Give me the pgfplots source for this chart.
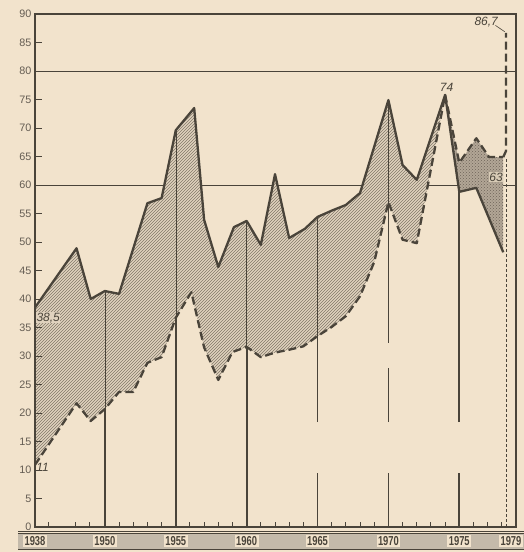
\documentclass[border=0pt]{standalone}
\usepackage{fontspec}
\setmainfont{Liberation Sans}
\newfontfamily\narrowfont[FakeStretch=0.72]{Liberation Sans}
\usepackage{pgfplots}
\pgfplotsset{compat=1.18}
\usepgfplotslibrary{fillbetween}
\usetikzlibrary{patterns}
\pgfdeclarelayer{paperbg}
\pgfplotsset{layers/mylayers/.define layer set={paperbg,axis background,axis grid,axis ticks,axis lines,axis tick labels,pre main,main,axis descriptions,axis foreground}{}}
\definecolor{paper}{RGB}{242,227,204}
\definecolor{ink}{RGB}{74,68,58}
\definecolor{hatchbg}{RGB}{224,210,190}
\definecolor{hatchln}{RGB}{130,120,104}
\definecolor{darkbg}{RGB}{178,166,150}
\definecolor{darkdot}{RGB}{110,100,88}
\definecolor{band}{RGB}{196,186,170}
\definecolor{labgray}{RGB}{100,92,82}
\begin{document}
\begin{tikzpicture}
\begin{axis}[
  set layers=mylayers,
  scale only axis, width=481pt, height=513pt,
  xmin=1945.07, xmax=1979, ymin=0, ymax=90,
  axis line style={ink, line width=1.3pt},
  ytick={0,5,...,90},
  ytick pos=left, xtick pos=bottom,
  tick align=inside,
  major tick length=7pt, minor tick length=5pt,
  tick style={ink, line width=0.9pt},
  yticklabel style={labgray, font=\fontsize{10.8}{12}\selectfont},
  /pgf/number format/assume math mode=true,
  xtick={1945.07,1950,1955,1960,1965,1970,1975,1979},
  xticklabels={1938,1950,1955,1960,1965,1970,1975,{}},
  xticklabel style={anchor=center, yshift=-14pt, text=ink, fill=paper, inner sep=1.5pt,
     font=\narrowfont\bfseries\fontsize{13}{14}\selectfont},
  minor xtick={1946,1947.9,1948.9,1951,1952,1953,1954,1956,1957,1958,1959,1961,1962,1963,1964,1966,1967,1968,1969,1971,1972,1973,1974,1976,1977,1978},
  clip=false,
]
\begin{pgfonlayer}{paperbg}
\fill[paper] (rel axis cs:-0.0728,-0.0488) rectangle (rel axis cs:1.0167,1.0273);
\fill[band] (rel axis cs:-0.0353,-0.0117) rectangle (rel axis cs:1.0167,-0.0429);
\draw[ink,line width=0.8pt] (rel axis cs:-0.0353,-0.0078) -- (rel axis cs:1.0167,-0.0078);
\draw[ink,line width=0.8pt] (rel axis cs:-0.0353,-0.0127) -- (rel axis cs:1.0167,-0.0127);
\draw[ink,line width=0.8pt] (rel axis cs:-0.0353,-0.0439) -- (rel axis cs:1.0167,-0.0439);
% horizontal reference lines at 60 and 80 (beneath the shaded areas)
\draw[ink, line width=1pt] (axis cs:1945.07,60) -- (axis cs:1979,60);
\draw[ink, line width=1pt] (axis cs:1945.07,80) -- (axis cs:1979,80);
\end{pgfonlayer}
% upper series (solid)
\addplot[name path=up, ink, line width=2.3pt, line join=round] coordinates {
 (1945.07,38.5) (1948.0,48.9) (1949.0,40.0) (1950.0,41.4) (1951.0,40.9)
 (1953.0,56.8) (1954.0,57.7) (1955.0,69.6) (1956.3,73.5) (1957.0,53.9)
 (1958.0,45.6) (1959.1,52.6) (1960.0,53.7) (1961.0,49.5) (1962.0,61.9)
 (1963.0,50.7) (1964.1,52.3) (1965.0,54.4) (1966.0,55.5) (1967.0,56.5)
 (1968.0,58.6) (1970.0,74.9) (1971.0,63.5) (1972.0,60.9) (1974.0,75.8)
 (1975.0,58.8) (1976.2,59.5) (1978.1,48.2)
};
% lower series (dashed)
\addplot[name path=dn, ink, line width=2.3pt, dash pattern=on 8pt off 4pt, line join=round] coordinates {
 (1945.07,10.9) (1948.0,21.7) (1949.0,18.6) (1950.0,20.7) (1951.0,23.7)
 (1952.0,23.7) (1953.0,28.8) (1954.0,29.8) (1955.0,36.7) (1956.1,41.2)
 (1957.0,31.5) (1958.0,25.8) (1959.0,30.7) (1960.0,31.6) (1961.0,29.8)
 (1962.0,30.6) (1963.0,31.1) (1964.0,31.7) (1965.0,33.5) (1966.0,35.1)
 (1967.0,37.0) (1968.0,40.5) (1969.0,46.5) (1970.0,57.0) (1971.0,50.4)
 (1972.0,49.8) (1974.0,75.8) (1975.0,63.9) (1976.2,68.2) (1977.1,64.9)
 (1978.1,64.9)
};
\addplot[ink, line width=2.3pt, dash pattern=on 8pt off 4pt] coordinates {(1978.1,64.9) (1978.3,66) (1978.3,86.7)};
% fills
\addplot[fill=hatchbg, draw=none] fill between[of=up and dn, soft clip={domain=1945.07:1974}];
\addplot[pattern=north east lines, pattern color=hatchln, draw=none] fill between[of=up and dn, soft clip={domain=1945.07:1974}];
\addplot[fill=darkbg, draw=none] fill between[of=up and dn, soft clip={domain=1974:1978.1}];
\addplot[pattern=crosshatch dots, pattern color=darkdot, draw=none] fill between[of=up and dn, soft clip={domain=1974:1978.1}];
% vertical year marks
\addplot[ink, line width=1.8pt] coordinates {(1950,0) (1950,20.7)};
\addplot[ink, line width=0.5pt] coordinates {(1950,20.7) (1950,41.4)};
\addplot[ink, line width=1.8pt] coordinates {(1955,0) (1955,36.7)};
\addplot[ink, line width=0.5pt] coordinates {(1955,36.7) (1955,69.6)};
\addplot[ink, line width=1.8pt] coordinates {(1960,0) (1960,31.6)};
\addplot[ink, line width=0.5pt] coordinates {(1960,31.6) (1960,53.7)};
\addplot[ink, line width=1.8pt] coordinates {(1965,0) (1965,9.5)};
\addplot[ink, line width=1.8pt] coordinates {(1965,18.4) (1965,33.5)};
\addplot[ink, line width=0.5pt] coordinates {(1965,33.5) (1965,54.4)};
\addplot[ink, line width=1.8pt] coordinates {(1970,0) (1970,9.5)};
\addplot[ink, line width=1.8pt] coordinates {(1970,18.4) (1970,27.9)};
\addplot[ink, line width=1.8pt] coordinates {(1970,32.3) (1970,57.0)};
\addplot[ink, line width=0.5pt] coordinates {(1970,57.0) (1970,74.9)};
\addplot[ink, line width=1.8pt] coordinates {(1975,0) (1975,9.5)};
\addplot[ink, line width=1.8pt] coordinates {(1975,18.4) (1975,58.8)};
\addplot[ink, line width=0.6pt, dash pattern=on 3pt off 2pt] coordinates {(1978.3,0) (1978.3,64.9)};
\addplot[ink, line width=0.6pt] coordinates {(1977.55,88.0) (1978.2,86.9)};
% value labels
\node[font=\itshape\fontsize{12}{13}\selectfont, text=ink, fill=hatchbg, inner sep=0.5pt] at (axis cs:1946.0,36.7) {38,5};
\node[font=\itshape\fontsize{12}{13}\selectfont, text=ink] at (axis cs:1945.6,10.4) {11};
\node[font=\itshape\fontsize{12}{13}\selectfont, text=ink] at (axis cs:1974.1,77.2) {74};
\node[font=\itshape\fontsize{12}{13}\selectfont, text=ink, fill=paper!60!darkbg, inner sep=0.5pt] at (axis cs:1977.6,61.4) {63};
\node[font=\itshape\fontsize{12}{13}\selectfont, text=ink] at (axis cs:1976.9,88.6) {86,7};
\node[font=\narrowfont\bfseries\fontsize{13}{14}\selectfont, text=ink, fill=paper, inner sep=1.5pt] at ([xshift=-5pt,yshift=-14pt]axis cs:1979,0) {1979};
\end{axis}
\pgfresetboundingbox
\path (-35pt,-25pt) rectangle (489pt,527pt);
\end{tikzpicture}
\end{document}
